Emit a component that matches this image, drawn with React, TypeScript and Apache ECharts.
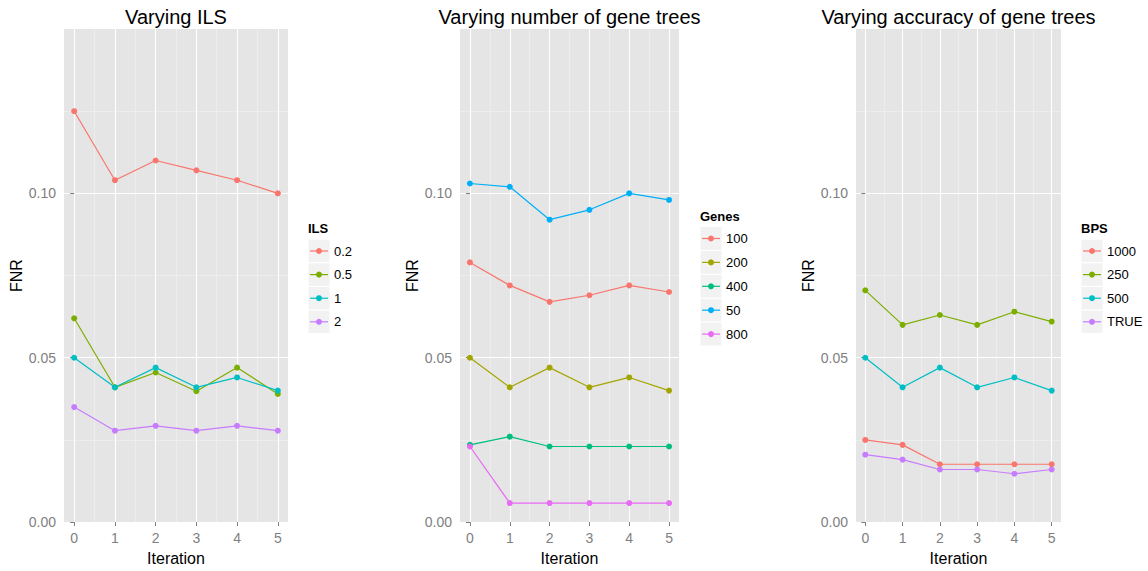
import React, { useEffect, useRef } from "react";
import * as echarts from "echarts";

// ---------- data ----------
const iterations = [0, 1, 2, 3, 4, 5];
const minorXTicks = [0.5, 1.5, 2.5, 3.5, 4.5];
const yTicks = [0, 0.05, 0.1];
const minorYTicks = [0.025, 0.075, 0.125];

const panelTitles = ["Varying ILS", "Varying number of gene trees", "Varying accuracy of gene trees"];
const legendTitles = ["ILS", "Genes", "BPS"];

const ilsNames = ["0.2", "0.5", "1", "2"];
const ils_02 = [0.125, 0.104, 0.11, 0.107, 0.104, 0.1];
const ils_05 = [0.062, 0.041, 0.0455, 0.0398, 0.047, 0.039];
const ils_1 = [0.05, 0.041, 0.047, 0.041, 0.044, 0.04];
const ils_2 = [0.035, 0.0278, 0.0293, 0.0278, 0.0293, 0.0278];

const geneNames = ["100", "200", "400", "50", "800"];
const genes_100 = [0.079, 0.072, 0.067, 0.069, 0.072, 0.07];
const genes_200 = [0.05, 0.041, 0.047, 0.041, 0.044, 0.04];
const genes_400 = [0.0235, 0.026, 0.023, 0.023, 0.023, 0.023];
const genes_50 = [0.103, 0.102, 0.092, 0.095, 0.1, 0.098];
const genes_800 = [0.023, 0.0058, 0.0058, 0.0058, 0.0058, 0.0058];

const bpsNames = ["1000", "250", "500", "TRUE"];
const bps_1000 = [0.025, 0.0235, 0.0176, 0.0176, 0.0176, 0.0176];
const bps_250 = [0.0705, 0.06, 0.063, 0.06, 0.064, 0.061];
const bps_500 = [0.05, 0.041, 0.047, 0.041, 0.044, 0.04];
const bps_TRUE = [0.0205, 0.019, 0.016, 0.016, 0.0147, 0.016];

const colors4 = ["#F8766D", "#7CAE00", "#00BFC4", "#C77CFF"];
const colors5 = ["#F8766D", "#A3A500", "#00BF7D", "#00B0F6", "#E76BF3"];

// ---------- layout ----------
const FONT = "'Liberation Sans', Arial, Helvetica, sans-serif";
const GRID_TOP = 29;
const GRID_H = 498;
const panels = [
  { left: 64, width: 224, names: ilsNames, values: [ils_02, ils_05, ils_1, ils_2], colors: colors4, legendX: 308, legendTitleY: 228, legendY0: 251, legendPitch: 23.6 },
  { left: 460, width: 219, names: geneNames, values: [genes_100, genes_200, genes_400, genes_50, genes_800], colors: colors5, legendX: 700, legendTitleY: 216.5, legendY0: 238.5, legendPitch: 23.9 },
  { left: 856, width: 205, names: bpsNames, values: [bps_1000, bps_250, bps_500, bps_TRUE], colors: colors4, legendX: 1081, legendTitleY: 228, legendY0: 251, legendPitch: 23.6 },
];

function buildOption() {
  const grid: any[] = [];
  const xAxis: any[] = [];
  const yAxis: any[] = [];
  const series: any[] = [];
  const graphic: any[] = [];

  panels.forEach((p, pi) => {
    grid.push({
      left: p.left,
      top: GRID_TOP,
      width: p.width,
      height: GRID_H,
      show: true,
      backgroundColor: "#E5E5E5",
      borderWidth: 0,
      containLabel: false,
    });
    // minor x axis (grid lines only)
    xAxis.push({
      type: "value",
      gridIndex: pi,
      position: "top",
      min: -0.25,
      max: 5.25,
      z: 0,
      axisLine: { show: false },
      axisTick: { show: false, customValues: minorXTicks },
      axisLabel: { show: false, customValues: minorXTicks },
      splitLine: { show: true, lineStyle: { color: "#F2F2F2", width: 0.6 } },
    });
    // main x axis
    xAxis.push({
      type: "value",
      gridIndex: pi,
      position: "bottom",
      min: -0.25,
      max: 5.25,
      z: 1,
      name: "Iteration",
      nameLocation: "middle",
      nameGap: 24,
      nameTextStyle: { fontFamily: FONT, fontSize: 16, color: "#000" },
      axisLine: { show: false },
      axisTick: { show: true, customValues: iterations, length: 4, lineStyle: { color: "#7F7F7F", width: 1 } },
      axisLabel: { customValues: iterations, color: "#7F7F7F", fontFamily: FONT, fontSize: 14, margin: 9 },
      splitLine: { show: true, lineStyle: { color: "#FFFFFF", width: 1.1 } },
    });
    // minor y axis
    yAxis.push({
      type: "value",
      gridIndex: pi,
      position: "right",
      min: 0,
      max: 0.15,
      z: 0,
      axisLine: { show: false },
      axisTick: { show: false, customValues: minorYTicks },
      axisLabel: { show: false, customValues: minorYTicks },
      splitLine: { show: true, lineStyle: { color: "#F2F2F2", width: 0.6 } },
    });
    // main y axis
    yAxis.push({
      type: "value",
      gridIndex: pi,
      position: "left",
      min: 0,
      max: 0.15,
      z: 1,
      name: "FNR",
      nameLocation: "middle",
      nameGap: 38,
      nameRotate: 90,
      nameTextStyle: { fontFamily: FONT, fontSize: 16, color: "#000" },
      axisLine: { show: false },
      axisTick: { show: true, customValues: yTicks, length: 4, lineStyle: { color: "#7F7F7F", width: 1 } },
      axisLabel: {
        customValues: yTicks,
        color: "#7F7F7F",
        fontFamily: FONT,
        fontSize: 14,
        margin: 8,
        formatter: (v: number) => v.toFixed(2),
      },
      splitLine: { show: true, lineStyle: { color: "#FFFFFF", width: 1.1 } },
    });

    p.names.forEach((name, si) => {
      series.push({
        type: "line",
        name,
        xAxisIndex: pi * 2 + 1,
        yAxisIndex: pi * 2 + 1,
        data: iterations.map((x, i) => [x, p.values[si][i]]),
        symbol: "circle",
        symbolSize: 6,
        showSymbol: true,
        color: p.colors[si],
        lineStyle: { width: 1.2, color: p.colors[si] },
        itemStyle: { color: p.colors[si] },
        emphasis: { disabled: true },
      });
    });

    // panel title
    graphic.push({
      type: "text",
      x: p.left + p.width / 2,
      y: 17,
      style: {
        text: panelTitles[pi],
        fontFamily: FONT,
        fontSize: 20,
        fill: "#000",
        align: "center",
        verticalAlign: "middle",
      },
    });

    // legend
    graphic.push({
      type: "text",
      x: p.legendX,
      y: p.legendTitleY,
      style: {
        text: legendTitles[pi],
        fontFamily: FONT,
        fontSize: 13,
        fontWeight: "bold",
        fill: "#000",
        align: "left",
        verticalAlign: "middle",
      },
    });
    p.names.forEach((name, si) => {
      const cy = p.legendY0 + si * p.legendPitch;
      const kx = p.legendX;
      const kw = 22;
      const kh = p.legendPitch;
      graphic.push({
        type: "rect",
        shape: { x: kx, y: cy - kh / 2, width: kw, height: kh },
        style: { fill: "#F2F2F2", stroke: "#FFFFFF", lineWidth: 1 },
      });
      graphic.push({
        type: "line",
        shape: { x1: kx + 2, y1: cy, x2: kx + kw - 2, y2: cy },
        style: { stroke: p.colors[si], lineWidth: 1.2 },
      });
      graphic.push({
        type: "circle",
        shape: { cx: kx + kw / 2, cy, r: 3 },
        style: { fill: p.colors[si] },
      });
      graphic.push({
        type: "text",
        x: kx + kw + 4,
        y: cy,
        style: {
          text: name,
          fontFamily: FONT,
          fontSize: 13,
          fill: "#000",
          align: "left",
          verticalAlign: "middle",
        },
      });
    });
  });

  return {
    animation: false,
    backgroundColor: "#FFFFFF",
    textStyle: { fontFamily: FONT },
    grid,
    xAxis,
    yAxis,
    series,
    graphic,
  };
}

export default function App() {
  const ref = useRef<HTMLDivElement>(null);
  useEffect(() => {
    if (!ref.current) return;
    const chart = echarts.init(ref.current, undefined, { renderer: "svg" });
    chart.setOption(buildOption() as any);
    return () => chart.dispose();
  }, []);
  return (
    <div
      ref={ref}
      style={{ position: "absolute", left: 0, top: 0, width: 1148, height: 571, background: "#fff" }}
    />
  );
}
